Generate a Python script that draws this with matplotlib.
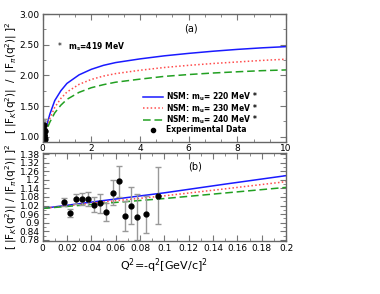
import matplotlib
matplotlib.use("Agg")
import matplotlib.pyplot as plt
from matplotlib.ticker import MultipleLocator, FormatStrFormatter
from matplotlib.lines import Line2D

q2_exp = [0.0175, 0.0225, 0.0275, 0.0325, 0.0375, 0.0425, 0.0475, 0.0525,
          0.0575, 0.0625, 0.0675, 0.0725, 0.0775, 0.085, 0.095]
ratio_exp = [1.046, 0.968, 1.067, 1.065, 1.065, 1.027, 1.036, 0.975,
             1.109, 1.190, 0.947, 1.020, 0.938, 0.959, 1.088]
ratio_err = [0.030, 0.030, 0.035, 0.040, 0.050, 0.055, 0.065, 0.060,
             0.087, 0.108, 0.108, 0.127, 0.160, 0.130, 0.200]

# model curves
q2_model = [0, 0.05, 0.1, 0.15, 0.2, 0.3, 0.5, 0.75, 1, 1.5, 2, 2.5, 3, 4, 5, 6, 7, 8, 9, 10]
nsm_220 = [1.0, 1.055, 1.109, 1.17, 1.229, 1.37, 1.59, 1.75, 1.87, 2.01, 2.10, 2.165,
           2.21, 2.27, 2.32, 2.36, 2.395, 2.425, 2.45, 2.47]
nsm_230 = [1.0, 1.045, 1.088, 1.137, 1.187, 1.30, 1.48, 1.625, 1.73, 1.855, 1.935, 1.99,
           2.03, 2.085, 2.13, 2.165, 2.195, 2.22, 2.245, 2.265]
nsm_240 = [1.0, 1.035, 1.069, 1.108, 1.147, 1.24, 1.39, 1.515, 1.61, 1.725, 1.80, 1.85,
           1.89, 1.94, 1.985, 2.015, 2.04, 2.06, 2.078, 2.09]

ylab = r'[ |F$_K$(q$^2$)|  /  |F$_\pi$(q$^2$)| ]$^2$'
ylab2 = r'[ |F$_K$(q$^2$)| / |F$_\pi$(q$^2$)| ]$^2$'

fig = plt.figure(figsize=(3.8, 2.94), dpi=100)
ax1 = fig.add_axes([0.112, 0.518, 0.641, 0.434])
ax2 = fig.add_axes([0.112, 0.179, 0.641, 0.302])


def style(ax):
    for s in ax.spines.values():
        s.set_color('#666666')
        s.set_linewidth(1.0)
    ax.tick_params(which='both', direction='in', top=True, right=True,
                   color='#777777', labelsize=6.5, pad=2)
    ax.tick_params(which='major', length=4)
    ax.tick_params(which='minor', length=2.5)


for ax in (ax1, ax2):
    ax.plot(q2_model, nsm_220, color='#1a1aff', lw=1.1, ls='-')
    ax.plot(q2_model, nsm_230, color='#ff4d4d', lw=1.1, ls=(0, (1, 1.5)))
    ax.plot(q2_model, nsm_240, color='#22a022', lw=1.1, ls=(0, (5, 2.5)))
    ax.errorbar(q2_exp, ratio_exp, yerr=ratio_err, fmt='o', color='black',
                ms=3.5, ecolor='#999999', elinewidth=1.0, capsize=2.5, capthick=1.0)
    style(ax)

ax1.set_xlim(0, 10)
ax1.set_ylim(0.92, 3.0)
ax1.xaxis.set_major_locator(MultipleLocator(2))
ax1.xaxis.set_minor_locator(MultipleLocator(2 / 3))
ax1.yaxis.set_major_locator(MultipleLocator(0.5))
ax1.yaxis.set_minor_locator(MultipleLocator(0.25))
ax1.yaxis.set_major_formatter(FormatStrFormatter('%.2f'))
ax1.set_ylabel(ylab, fontsize=7.5)
ax1.yaxis.set_label_coords(-0.095, 0.5)
ax1.text(6.1, 2.76, '(a)', fontsize=7, ha='center', va='center')
ax1.text(0.72, 2.47, '*', fontsize=5.5, ha='center', va='center')
ax1.text(1.05, 2.47, r'$\mathbf{m_s}$=419 MeV', fontsize=5.5, fontweight='bold',
         ha='left', va='center')

handles = [
    Line2D([], [], color='#1a1aff', lw=1.1, ls='-'),
    Line2D([], [], color='#ff4d4d', lw=1.1, ls=(0, (1, 1.5))),
    Line2D([], [], color='#22a022', lw=1.1, ls=(0, (5, 2.5))),
    Line2D([], [], color='black', marker='o', ms=3.0, ls='none'),
]
labels = [r'NSM: $\mathbf{m_u}$= 220 MeV *',
          r'NSM: $\mathbf{m_u}$= 230 MeV *',
          r'NSM: $\mathbf{m_u}$= 240 MeV *',
          'Experimental Data']
ax1.legend(handles, labels, loc='upper left', bbox_to_anchor=(0.39, 0.445),
           frameon=False, prop={'size': 5.5, 'weight': 'bold'},
           handlelength=2.6, handletextpad=0.4, labelspacing=-0.1,
           borderpad=0.2)

ax2.set_xlim(0, 0.2)
ax2.set_ylim(0.77, 1.39)
ax2.xaxis.set_major_locator(MultipleLocator(0.02))
ax2.xaxis.set_minor_locator(MultipleLocator(0.01))
ax2.set_yticks([0.78, 0.84, 0.9, 0.96, 1.02, 1.08, 1.14, 1.2, 1.26, 1.32, 1.38])
ax2.set_yticklabels(['0.78', '0.84', '0.9', '0.96', '1.02', '1.08', '1.14',
                     '1.2', '1.26', '1.32', '1.38'])
ax2.yaxis.set_minor_locator(MultipleLocator(0.03))
ax2.set_xticks([0, 0.02, 0.04, 0.06, 0.08, 0.1, 0.12, 0.14, 0.16, 0.18, 0.2])
ax2.set_xticklabels(['0', '0.02', '0.04', '0.06', '0.08', '0.1', '0.12',
                     '0.14', '0.16', '0.18', '0.2'])
ax2.set_ylabel(ylab2, fontsize=7.5)
ax2.yaxis.set_label_coords(-0.095, 0.5)
ax2.set_xlabel(r'Q$^2$=-q$^2$[GeV/c]$^2$', fontsize=8, labelpad=2)
ax2.text(0.125, 1.29, '(b)', fontsize=7, ha='center', va='center')

fig.savefig('out.png', dpi=100)
